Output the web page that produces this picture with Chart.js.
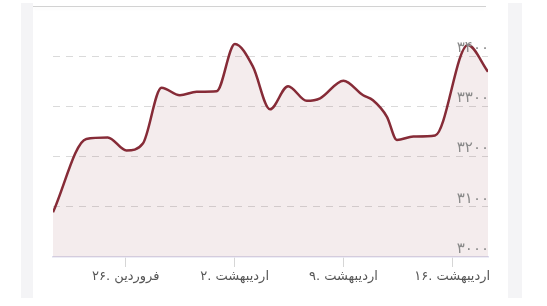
<!DOCTYPE html>
<html>
<head>
<meta charset="utf-8">
<script src="https://cdn.jsdelivr.net/npm/chart.js@4"></script>
<style>
    html, body { margin: 0; padding: 0; background: #fff; }
    #wrap { position: relative; width: 547px; height: 306px; overflow: hidden; }
    .strip { position: absolute; top: 3px; height: 295px; background: #f4f4f6; }
    #topline { position: absolute; left: 33px; top: 6px; width: 453px; height: 1px; background: #d2d2d2; box-shadow: 0 2px 3px rgba(0,0,0,0.04); }
    #box { position: absolute; left: 0; top: 0; width: 547px; height: 306px; }
</style>
</head>
<body>
<div id="wrap">
    <div class="strip" style="left:21px;width:12px"></div>
    <div class="strip" style="left:508px;width:14px"></div>
    <div id="topline"></div>
    <div id="box"><canvas id="priceChart"></canvas></div>
</div>
<script>
// days counted from 26 Farvardin
const days = [-4.68, -2.54, -1.16, 0.05, 1.1, 2.3, 3.48, 4.56, 5.84, 7.02, 8.18, 9.28, 10.44,
    11.64, 12.5, 14.0, 15.27, 15.9, 16.8, 17.44, 18.5, 19.9, 22.0, 23.3];
const prices = [3089, 3235, 3238, 3212, 3226, 3337, 3322, 3329, 3330, 3424, 3379, 3294, 3340,
    3311, 3316, 3351, 3322, 3312, 3279, 3233, 3240, 3242, 3422, 3369];

const tickDays = [0, 7, 14, 21];
const tickLabels = ['۲۶. فروردین', '۲. اردیبهشت', '۹. اردیبهشت', '۱۶. اردیبهشت'];

const faDigits = '۰۱۲۳۴۵۶۷۸۹';
function toFa(n) {
    return String(n).replace(/\d/g, d => faDigits[d]);
}

const points = days.map((d, i) => ({ x: d, y: prices[i] }));

new Chart(document.getElementById('priceChart'), {
    type: 'line',
    data: {
        datasets: [{
            data: points,
            borderColor: '#862b37',
            backgroundColor: 'rgba(134, 43, 55, 0.09)',
            borderWidth: 2.5,
            fill: 'start',
            pointRadius: 0,
            cubicInterpolationMode: 'monotone'
        }]
    },
    options: {
        responsive: true,
        maintainAspectRatio: false,
        animation: false,
        layout: { padding: { left: 53, right: 59, top: 36, bottom: 19 } },
        plugins: { legend: { display: false }, tooltip: { enabled: false } },
        scales: {
            x: {
                type: 'linear',
                min: -4.68,
                max: 23.3,
                afterBuildTicks: (scale) => {
                    scale.ticks = tickDays.map(v => ({ value: v }));
                },
                afterFit: (scale) => { scale.height = 30; },
                ticks: {
                    autoSkip: false,
                    maxRotation: 0,
                    padding: 2,
                    color: '#555',
                    font: { family: 'DejaVu Sans', size: 13 },
                    callback: (value) => tickLabels[tickDays.indexOf(value)] || ''
                },
                grid: {
                    drawOnChartArea: false,
                    drawTicks: true,
                    tickLength: 10,
                    color: '#d6d6d6'
                },
                border: { display: true, color: '#dcdcee', width: 1.5 }
            },
            y: {
                position: 'right',
                min: 3000,
                max: 3440,
                afterFit: (scale) => { scale.width = 0; },
                ticks: {
                    z: 1,
                    stepSize: 100,
                    includeBounds: false,
                    mirror: true,
                    padding: 1,
                    labelOffset: -8,
                    color: '#8a8a8a',
                    font: { family: 'DejaVu Sans', size: 15 },
                    callback: (value) => toFa(value)
                },
                grid: {
                    drawTicks: false,
                    color: (ctx) => ctx.tick && ctx.tick.value === 3000 ? 'rgba(0,0,0,0)' : '#dadada'
                },
                border: { display: false, dash: [7, 6] }
            }
        }
    }
});
</script>
</body>
</html>
